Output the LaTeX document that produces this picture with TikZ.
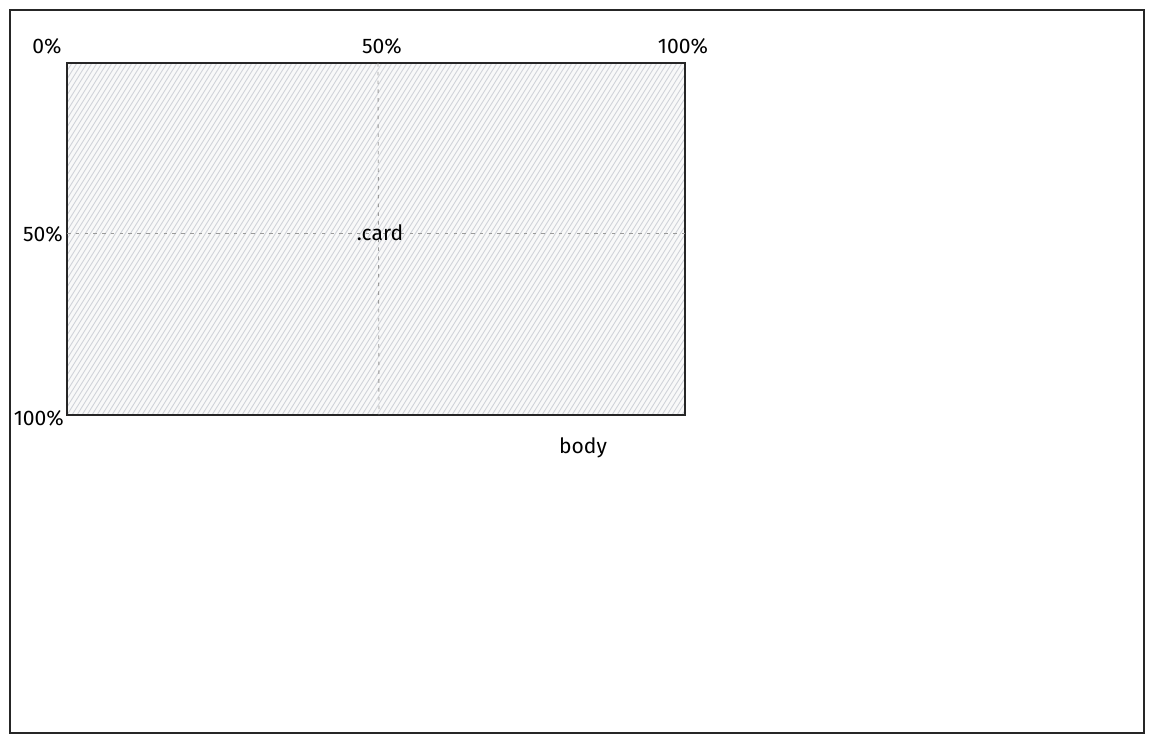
\documentclass[tikz,border=0pt]{standalone}
\usepackage{fontspec}
\setmainfont{Fira Sans}
\usepackage{tikz}
\usetikzlibrary{positioning,calc}
\usepackage{xcolor}
\definecolor{hatchgray}{RGB}{208,211,217}
\begin{document}
\begin{tikzpicture}[x=0.02cm,y=-0.02cm, every node/.style={font=\fontsize{12}{14}\selectfont,inner sep=1pt}]
\tikzstyle{frame}=[draw=black!85,line width=0.9pt]
\tikzstyle{guide}=[draw=black!40,dash pattern=on 2pt off 3pt,line width=0.5pt]
\tikzstyle{hatch}=[draw=hatchgray,line width=0.5pt]
\useasboundingbox (0,0) rectangle (1154,743);
% body
\draw[frame] (10,10) rectangle (1144,733);
\coordinate (cardnw) at (67,63);
\coordinate (cardse) at (685,415);
% card with hatching
\fill[gray!5] (cardnw) rectangle (cardse);
\begin{scope}
\clip (cardnw) rectangle (cardse);
\foreach \i in {0,5,...,840}
  \draw[hatch] (67+\i-220,415) -- (67+\i,63);
\end{scope}
\draw[frame] (cardnw) rectangle (cardse);
% centre guides
\coordinate (midtop) at (378,63);
\coordinate (midbot) at (379,415);
\coordinate (midleft) at (67,233);
\coordinate (midright) at (685,233);
\draw[guide] (midtop) -- (midbot);
\draw[guide] (midleft) -- (midright);
% labels
\node (xzero) at (47,46) {0\%};
\node (xhalf) at (382,46) {50\%};
\node (xfull) at (683,46) {100\%};
\node[anchor=east] (yhalf) at (65,234) {50\%};
\node[anchor=east] (yfull) at (66,418) {100\%};
\node (card) at (380,233) {.card};
\node (body) at (583,448) {body};
\end{tikzpicture}
\end{document}
